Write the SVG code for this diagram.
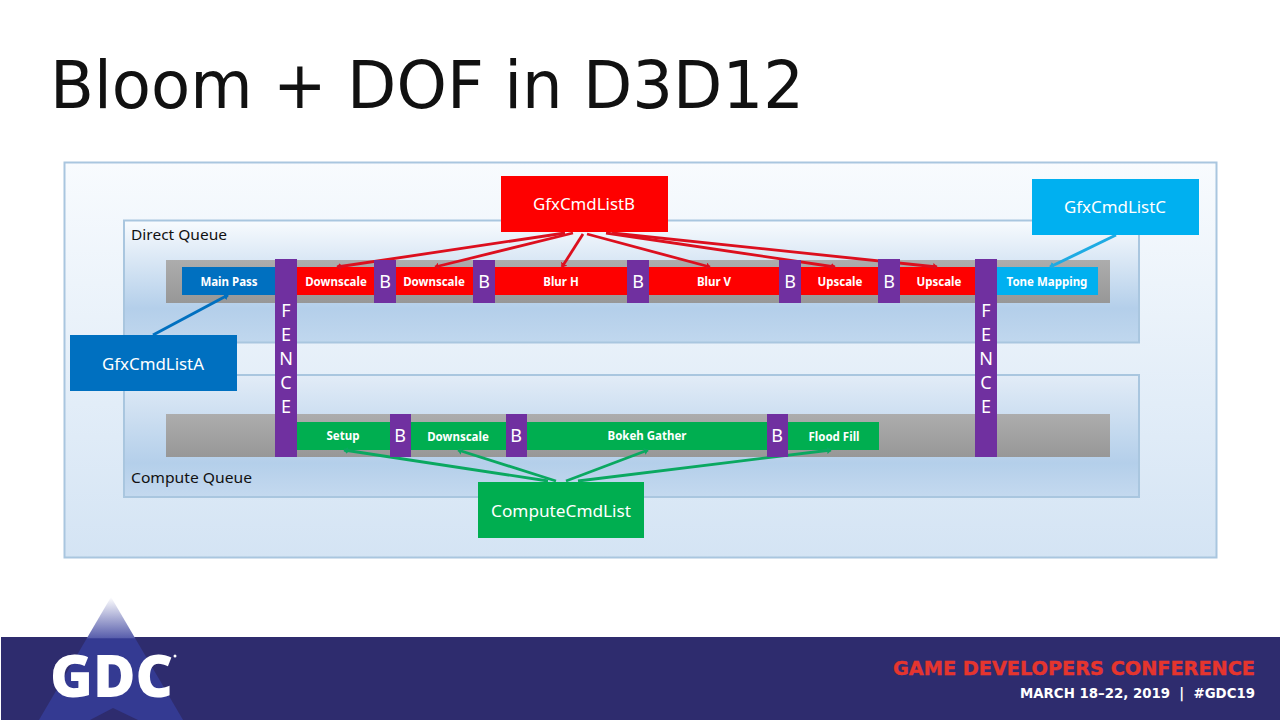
<svg xmlns="http://www.w3.org/2000/svg" width="1280" height="720" viewBox="0 0 1280 720">
<style>
text{font-family:"Noto Sans","DejaVu Sans",sans-serif;fill:#fff}
.t{font-size:11.5px;font-weight:700;text-anchor:middle}
.c{font-size:17px;text-anchor:middle}
.q{font-size:15px;fill:#111}
.b{font-size:18px;text-anchor:middle}
.red{fill:#fe0000}.grn{fill:#00ae50}.pur{fill:#7030a0}
.gray{fill:url(#g)}
.lr{stroke:#dc0f1e;stroke-width:2.8;marker-end:url(#mr)}
.lg{stroke:#0aa860;stroke-width:2.8;marker-end:url(#mg)}
.lb{stroke:#0070c0;stroke-width:3;marker-end:url(#mb)}
.lc{stroke:#1eabe3;stroke-width:3;marker-end:url(#mc)}
</style>
<defs>
<linearGradient id="o" x1="0" y1="0" x2="0" y2="1"><stop offset="0" stop-color="#f8fbfe"/><stop offset="1" stop-color="#d4e4f4"/></linearGradient>
<linearGradient id="d" x1="0" y1="0" x2="0" y2="1"><stop offset="0" stop-color="#f8fbfe"/><stop offset=".72" stop-color="#b4cfea"/><stop offset="1" stop-color="#c0d7ee"/></linearGradient>
<linearGradient id="e" x1="0" y1="0" x2="0" y2="1"><stop offset="0" stop-color="#e2ecf7"/><stop offset=".72" stop-color="#b4cfea"/><stop offset="1" stop-color="#c4d9ef"/></linearGradient>
<linearGradient id="g" x1="0" y1="0" x2="0" y2="1"><stop offset="0" stop-color="#adadad"/><stop offset="1" stop-color="#979797"/></linearGradient>
<linearGradient id="tri" gradientUnits="userSpaceOnUse" x1="0" y1="597" x2="0" y2="720"><stop offset="0" stop-color="#fff"/><stop offset=".33" stop-color="#5a60ad"/><stop offset=".34" stop-color="#343a92"/><stop offset="1" stop-color="#343a92"/></linearGradient>
<marker id="mr" markerWidth="1.6" markerHeight="2.6" refX="1.4" refY="1.3" orient="auto"><path d="M0 0L1.6 1.3L0 2.6Z" fill="#dc0f1e"/></marker>
<marker id="mg" markerWidth="1.6" markerHeight="2.6" refX="1.4" refY="1.3" orient="auto"><path d="M0 0L1.6 1.3L0 2.6Z" fill="#0aa860"/></marker>
<marker id="mb" markerWidth="1.6" markerHeight="2.6" refX="1.4" refY="1.3" orient="auto"><path d="M0 0L1.6 1.3L0 2.6Z" fill="#0070c0"/></marker>
<marker id="mc" markerWidth="1.6" markerHeight="2.6" refX="1.4" refY="1.3" orient="auto"><path d="M0 0L1.6 1.3L0 2.6Z" fill="#1eabe3"/></marker>
</defs>
<rect width="1280" height="720" fill="#fff"/>
<text id="title" x="50" y="108" font-size="66" style="fill:#111;font-family:'DejaVu Sans',sans-serif" textLength="754" lengthAdjust="spacingAndGlyphs">Bloom + DOF in D3D12</text>
<g id="outer"><rect x="64.5" y="162.5" width="1152" height="395" fill="url(#o)" stroke="#a9c6df" stroke-width="2"/></g>
<g id="direct-queue"><rect x="124" y="220.500" width="1015" height="122" fill="url(#d)" stroke="#a9c6df" stroke-width="2"/><text class="q" x="131" y="240" textLength="96" lengthAdjust="spacingAndGlyphs">Direct Queue</text></g>
<g id="compute-queue"><rect x="124" y="375" width="1015" height="122" fill="url(#e)" stroke="#a9c6df" stroke-width="2"/><text class="q" x="131" y="483" textLength="121" lengthAdjust="spacingAndGlyphs">Compute Queue</text></g>
<g id="direct-band"><rect class="gray" x="166" y="260" width="944" height="43"/></g>
<g id="compute-band"><rect class="gray" x="166" y="414" width="944" height="43"/></g>
<g id="main-pass"><rect x="182" y="267" width="94" height="28" fill="#0070c0"/><text class="t" x="229" y="285.500">Main Pass</text></g>
<g id="red-downscale-1"><rect class="red" x="297" y="267" width="78" height="28"/><text class="t" x="336" y="285.500">Downscale</text></g>
<g id="red-downscale-2"><rect class="red" x="396" y="267" width="78" height="28"/><text class="t" x="434" y="285.500">Downscale</text></g>
<g id="blur-h"><rect class="red" x="495" y="267" width="133" height="28"/><text class="t" x="561" y="285.500">Blur H</text></g>
<g id="blur-v"><rect class="red" x="649" y="267" width="131" height="28"/><text class="t" x="714" y="285.500">Blur V</text></g>
<g id="upscale-1"><rect class="red" x="801" y="267" width="78" height="28"/><text class="t" x="840" y="285.500">Upscale</text></g>
<g id="upscale-2"><rect class="red" x="900" y="267" width="76" height="28"/><text class="t" x="939" y="285.500">Upscale</text></g>
<g id="tone-mapping"><rect x="997" y="267" width="101" height="28" fill="#00b0f0"/><text class="t" x="1047" y="285.500">Tone Mapping</text></g>
<g id="setup"><rect class="grn" x="297" y="422" width="94" height="28"/><text class="t" x="343" y="439.500">Setup</text></g>
<g id="c-downscale"><rect class="grn" x="411" y="422" width="95" height="28"/><text class="t" x="458" y="440.500">Downscale</text></g>
<g id="bokeh-gather"><rect class="grn" x="527" y="422" width="241" height="28"/><text class="t" x="647" y="439.500">Bokeh Gather</text></g>
<g id="flood-fill"><rect class="grn" x="788" y="422" width="91" height="28"/><text class="t" x="834" y="440.500">Flood Fill</text></g>
<g id="connectors" fill="none">
<path class="lr" d="M565 233L337 267"/>
<path class="lr" d="M573 233L435 267"/>
<path class="lr" d="M583 234L562 267"/>
<path class="lr" d="M587 234L710 267"/>
<path class="lr" d="M606 233L835 267"/>
<path class="lr" d="M612 233L937 267"/>
<path class="lg" d="M548 481L344 450"/>
<path class="lg" d="M556 481L458 450"/>
<path class="lg" d="M566 481L648 450"/>
<path class="lg" d="M578 481L831 450"/>
<path class="lb" d="M153 335L228 295"/>
<path class="lc" d="M1116 235L1050 267"/>
</g>
<g id="b1"><rect class="pur" x="374" y="260" width="22" height="43"/><text class="b" x="385" y="288">B</text></g>
<g id="b2"><rect class="pur" x="473" y="260" width="22" height="43"/><text class="b" x="484" y="288">B</text></g>
<g id="b3"><rect class="pur" x="627" y="260" width="22" height="43"/><text class="b" x="638" y="288">B</text></g>
<g id="b4"><rect class="pur" x="779" y="260" width="22" height="43"/><text class="b" x="790" y="288">B</text></g>
<g id="b5"><rect class="pur" x="878" y="259" width="22" height="44"/><text class="b" x="889" y="288">B</text></g>
<g id="b6"><rect class="pur" x="390" y="414" width="21" height="43"/><text class="b" x="400" y="442">B</text></g>
<g id="b7"><rect class="pur" x="506" y="414" width="21" height="43"/><text class="b" x="516" y="442">B</text></g>
<g id="b8"><rect class="pur" x="767" y="414" width="21" height="43"/><text class="b" x="777" y="442">B</text></g>
<g id="fence-1"><rect class="pur" x="275" y="259" width="22" height="198"/>
<text class="b" x="286" y="317">F</text><text class="b" x="286" y="341">E</text><text class="b" x="286" y="365">N</text><text class="b" x="286" y="389">C</text><text class="b" x="286" y="413">E</text></g>
<g id="fence-2"><rect class="pur" x="975" y="259" width="22" height="198"/>
<text class="b" x="986" y="317">F</text><text class="b" x="986" y="341">E</text><text class="b" x="986" y="365">N</text><text class="b" x="986" y="389">C</text><text class="b" x="986" y="413">E</text></g>
<g id="list-a"><rect x="70" y="335" width="167" height="56" fill="#0070c0"/><text class="c" x="153" y="370" textLength="102" lengthAdjust="spacingAndGlyphs">GfxCmdListA</text></g>
<g id="list-b"><rect x="501" y="176" width="167" height="56" class="red"/><text class="c" x="584" y="210" textLength="102" lengthAdjust="spacingAndGlyphs">GfxCmdListB</text></g>
<g id="list-c"><rect x="1032" y="179" width="167" height="56" fill="#00b0f0"/><text class="c" x="1115" y="213" textLength="102" lengthAdjust="spacingAndGlyphs">GfxCmdListC</text></g>
<g id="list-compute"><rect x="478" y="482" width="166" height="56" class="grn"/><text class="c" x="561" y="517" textLength="140" lengthAdjust="spacingAndGlyphs">ComputeCmdList</text></g>
<g id="footer">
<rect x="1" y="637" width="1279" height="83" fill="#2e2c6e"/>
<path d="M111 597L183 720H39Z" fill="url(#tri)"/>
<path d="M113 708L90 720H138Z" fill="#2e2c6e"/>
<text x="50" y="697" font-size="58" font-weight="800" style="font-family:'Open Sans','DejaVu Sans',sans-serif" textLength="123" lengthAdjust="spacingAndGlyphs">GDC</text>
<circle cx="175" cy="656" r="1.500" fill="#fff"/>
<text x="893" y="675" font-size="19.500" font-weight="700" stroke="#e5352e" stroke-width=".4" style="font-family:'DejaVu Sans',sans-serif;fill:#e5352e" textLength="362" lengthAdjust="spacingAndGlyphs">GAME DEVELOPERS CONFERENCE</text>
<text x="1020" y="698" font-size="14.500" font-weight="700" style="font-family:'DejaVu Sans',sans-serif" textLength="235" lengthAdjust="spacingAndGlyphs" xml:space="preserve">MARCH 18–22, 2019  |  #GDC19</text>
</g>
</svg>
